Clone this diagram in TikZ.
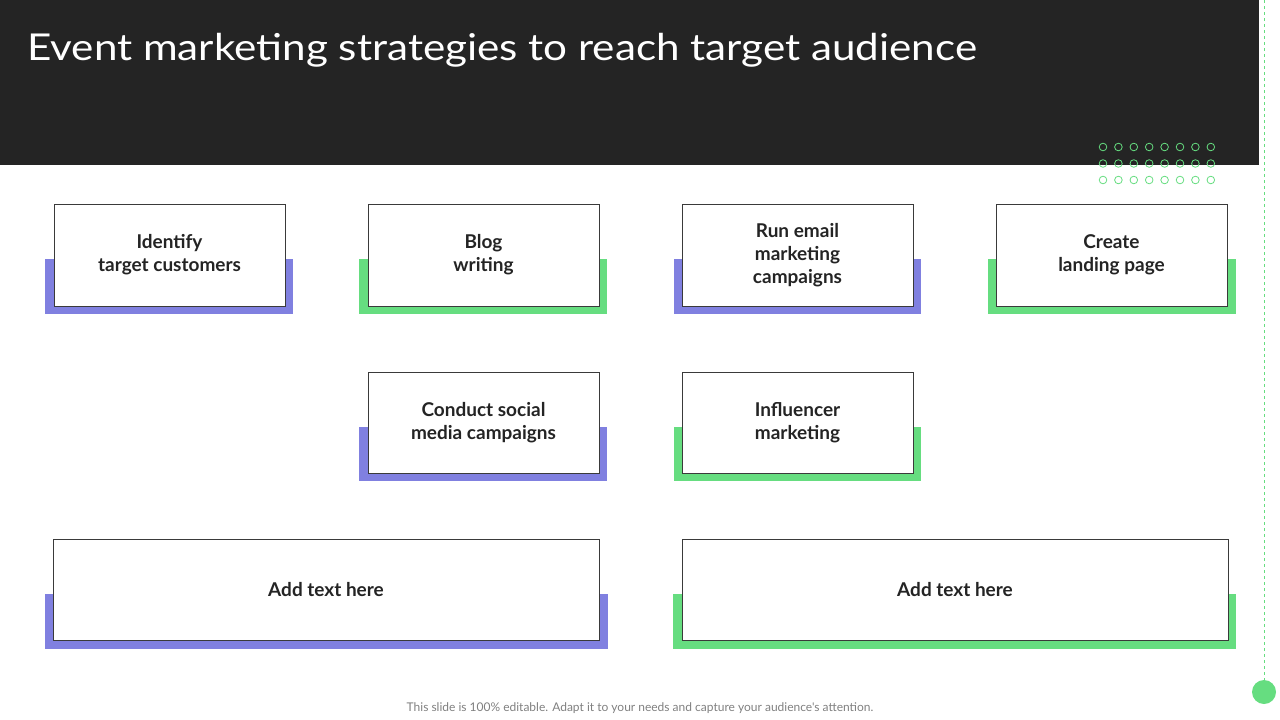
\documentclass[tikz,border=0pt]{standalone}
\usepackage{fontspec}
\setmainfont{Lato}
\newfontfamily\lato{Lato}
\definecolor{dark}{HTML}{242424}
\definecolor{pur}{HTML}{8080E0}
\definecolor{grn}{HTML}{66DD80}
\tikzset{
 wbox/.style={draw=dark!90, line width=0.8pt, fill=white, align=center, font=\fontsize{19}{23}\selectfont\bfseries\lato, text=dark},
}
\begin{document}
\begin{tikzpicture}[x=1pt,y=-1pt]
\useasboundingbox (0,0) rectangle (1280,720);
\fill[dark] (0,0) rectangle (1259,165);
\node[anchor=west, text=white, font=\fontsize{37}{40}\selectfont\lato, inner sep=0] (title) at (27,50) {\scalebox{1.14}[1]{Event marketing strategies to reach target audience}};
\foreach \r in {0,1,2}{\foreach \c in {0,...,7}{
 \draw[grn, line width=0.8pt] (1103+\c*15.4,147+\r*16.5) circle (3.8);}}
\draw[grn, dashed, line width=0.8pt] (1264,0) -- (1264,680);
\fill[grn] (1264,692) circle (12);
\newcommand{\sh}[5]{\fill[#5] (#1,#3) rectangle (#2,#4);}
\sh{45}{293}{259}{314}{pur}
\sh{359}{607}{259}{314}{grn}
\sh{674}{921}{259}{314}{pur}
\sh{988}{1236}{259}{314}{grn}
\sh{359}{607}{427}{481}{pur}
\sh{674}{921}{427}{481}{grn}
\sh{45}{608}{594}{649}{pur}
\sh{673}{1236}{594}{649}{grn}
\node[wbox, minimum width=231, minimum height=102] (b1) at (169.5,255) {Identify\\target customers};
\node[wbox, minimum width=231, minimum height=102] (b2) at (483.5,255) {Blog\\writing};
\node[wbox, minimum width=231, minimum height=102] (b3) at (797.5,255) {Run email\\marketing\\campaigns};
\node[wbox, minimum width=231, minimum height=102] (b4) at (1111.5,255) {Create\\landing page};
\node[wbox, minimum width=231, minimum height=101] (b5) at (483.5,422.5) {Conduct social\\media campaigns};
\node[wbox, minimum width=231, minimum height=101] (b6) at (797.5,422.5) {Influencer\\marketing};
\node[wbox, minimum width=546, minimum height=101] (b7) at (326,589.5) {Add text here};
\node[wbox, minimum width=546, minimum height=101] (b8) at (955,589.5) {Add text here};
\node[text=gray, font=\fontsize{12}{14}\selectfont\lato] (foot) at (640,708) {This slide is 100\% editable. Adapt it to your needs and capture your audience's attention.};
\end{tikzpicture}
\end{document}
